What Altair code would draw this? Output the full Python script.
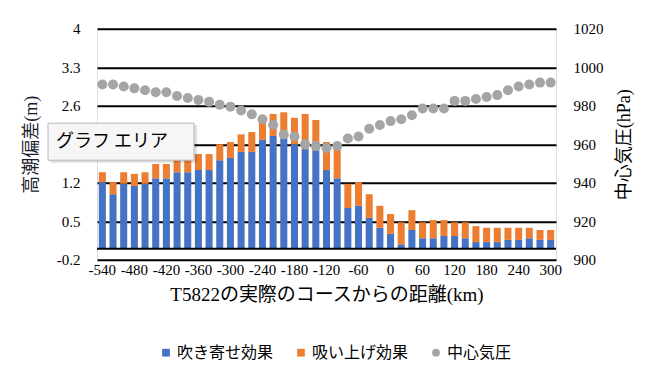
import altair as alt
import pandas as pd

# x categories (km from actual course of T5822)
km = [-540, -520, -500, -480, -460, -440, -420, -400, -380, -360, -340, -320, -300,
      -280, -260, -240, -220, -200, -180, -160, -140, -120, -100, -80, -60, -40, -20,
      0, 20, 40, 60, 80, 100, 120, 140, 160, 180, 200, 220, 240, 260, 280, 300]
km_labels = [-540, -480, -420, -360, -300, -240, -180, -120, -60, 0, 60, 120, 180, 240, 300]

# 吹き寄せ効果 (m)
wind = [1.21, 0.99, 1.18, 1.14, 1.18, 1.28, 1.28, 1.39, 1.39, 1.43, 1.43, 1.61, 1.65,
        1.76, 1.76, 1.98, 2.05, 2.01, 1.90, 1.81, 1.79, 1.43, 1.28, 0.74, 0.78, 0.56, 0.38,
        0.27, 0.08, 0.34, 0.19, 0.19, 0.23, 0.23, 0.19, 0.12, 0.12, 0.12, 0.16, 0.16, 0.19,
        0.16, 0.16]
# 吸い上げ効果 (m)
suction = [0.18, 0.22, 0.21, 0.22, 0.21, 0.26, 0.26, 0.22, 0.22, 0.29, 0.29, 0.29, 0.29,
           0.32, 0.36, 0.32, 0.40, 0.47, 0.48, 0.64, 0.55, 0.51, 0.53, 0.44, 0.43, 0.43, 0.40,
           0.36, 0.40, 0.36, 0.29, 0.33, 0.29, 0.25, 0.29, 0.29, 0.26, 0.26, 0.22, 0.22, 0.19,
           0.18, 0.18]
# 中心気圧 (hPa)
pressure = [991, 991, 990, 989, 988, 987, 987, 985, 984, 983, 982, 980.5, 979.5,
            977.5, 975.5, 973, 970, 965, 964, 960, 959, 958, 959, 963, 964, 968, 970,
            972, 973, 975, 978.5, 978.5, 978.5, 982.5, 982.5, 983.5, 984.5, 985.5, 988, 990, 991,
            992, 992]

series_names = ["吹き寄せ効果", "吸い上げ効果", "中心気圧"]
series_colors = ["#4472C4", "#ED7D31", "#A5A5A5"]
series_shapes = ["square", "square", "circle"]
left_ticks = [-0.2, 0.5, 1.2, 1.9, 2.6, 3.3, 4]
right_ticks = [900, 920, 940, 960, 980, 1000, 1020]

bar_df = pd.DataFrame({
    "km": km * 2,
    "v": wind + suction,
    "series": [series_names[0]] * len(km) + [series_names[1]] * len(km),
    "ord": [0] * len(km) + [1] * len(km),
})
p_df = pd.DataFrame({"km": km, "p": pressure, "series": [series_names[2]] * len(km)})

SERIF = "Liberation Serif"
TITLEF = "Liberation Serif, Noto Sans CJK JP"
CJK = "Noto Sans CJK JP"

xscale = alt.Scale(domain=km, paddingInner=0.34, paddingOuter=0.17)
cscale = alt.Scale(domain=series_names, range=series_colors)
sscale = alt.Scale(domain=series_names, range=series_shapes)
legend = alt.Legend(
    title=None, orient="none", legendX=61, legendY=316, direction="horizontal",
    symbolSize=60, symbolStrokeWidth=0,
    labelFont=CJK, labelFontSize=16, labelColor="black", labelOffset=3,
    columnPadding=19,
)

bars = alt.Chart(bar_df).mark_bar().encode(
    x=alt.X("km:O", scale=xscale, axis=alt.Axis(
        values=km_labels, labelExpr="'' + datum.value", labelAngle=0, labelOverlap=False,
        ticks=False, domain=False, labelPadding=3, labelFont=SERIF, labelFontSize=15,
        labelColor="black", title="T5822の実際のコースからの距離(km)", titleFont=TITLEF,
        titleFontSize=19, titleFontWeight="normal", titleColor="black", titlePadding=8)),
    y=alt.Y("v:Q", stack="zero", scale=alt.Scale(domain=[-0.2, 4], nice=False, zero=False),
            axis=alt.Axis(orient="left", values=left_ticks, labelExpr="'' + datum.value",
                          grid=True, gridColor="black", gridWidth=2, ticks=False, domain=False,
                          labelFont=SERIF, labelFontSize=15, labelColor="black", labelPadding=17,
                          title="高潮偏差(m)", titleFont=TITLEF, titleFontSize=18,
                          titleFontWeight="normal", titleColor="#1a1a2e", titlePadding=16)),
    color=alt.Color("series:N", scale=cscale, legend=legend),
    order=alt.Order("ord:Q"),
)

pts = alt.Chart(p_df).mark_point(size=100, opacity=1, filled=True).encode(
    x=alt.X("km:O", scale=xscale),
    y=alt.Y("p:Q", scale=alt.Scale(domain=[900, 1020], nice=False, zero=False),
            axis=alt.Axis(orient="right", values=right_ticks, labelExpr="'' + datum.value",
                          grid=False, ticks=False, domain=False,
                          labelFont=SERIF, labelFontSize=15, labelColor="black", labelPadding=17,
                          title="中心気圧(hPa)", titleFont=TITLEF, titleFontSize=18,
                          titleFontWeight="normal", titleColor="black", titleAngle=270,
                          titlePadding=31)),
    color=alt.Color("series:N", scale=cscale, legend=legend),
    shape=alt.Shape("series:N", scale=sscale, legend=legend),
)

zero_df = pd.DataFrame({"z": [0]})
zero_rule = alt.Chart(zero_df).mark_rule(color="black", strokeWidth=2).encode(
    y=alt.Y("z:Q", scale=alt.Scale(domain=[-0.2, 4], nice=False, zero=False), axis=None),
)

tip_df = pd.DataFrame({"t": ["グラフ エリア"]})
tip_shadow = alt.Chart(tip_df).mark_rect(fill="black", opacity=0.12).encode(
    x=alt.value(-47), x2=alt.value(100), y=alt.value(96.5), y2=alt.value(134),
)
tip_box = alt.Chart(tip_df).mark_rect(fill="#f6f6f6", stroke="#b8b8b8", strokeWidth=1).encode(
    x=alt.value(-49), x2=alt.value(97), y=alt.value(94.5), y2=alt.value(131.5),
)
tip_text = alt.Chart(tip_df).mark_text(font=CJK, fontSize=18, color="black", align="left",
                                       baseline="middle").encode(
    x=alt.value(-41), y=alt.value(113), text="t:N",
)

chart = alt.layer(bars, pts, zero_rule, tip_shadow, tip_box, tip_text).resolve_scale(
    y="independent"
).properties(
    width=459, height=231,
    autosize=alt.AutoSizeParams(type="none"),
    padding={"left": 89, "top": 20.7, "right": 104, "bottom": 116},
).configure_view(stroke=None).configure(background="white")

chart.save("out.html", embed_options={"renderer": "svg", "actions": False})
